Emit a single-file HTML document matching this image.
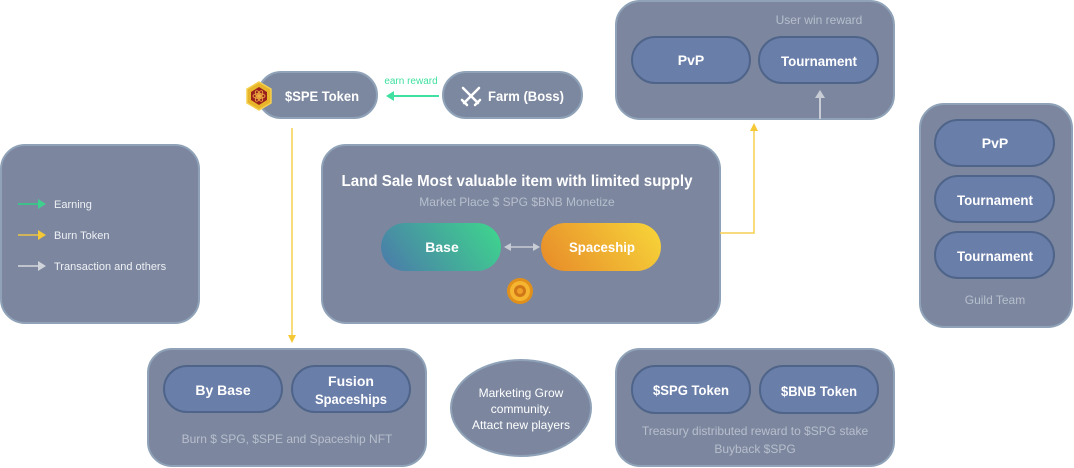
<!DOCTYPE html>
<html><head><meta charset="utf-8"><style>
html,body{margin:0;padding:0;background:#fff;}
svg{display:block;font-family:"Liberation Sans",Roboto,sans-serif;}
.pn{fill:#7c879f;stroke:#8fa2b8;stroke-width:2}
.pl{fill:#6a7eaa;stroke:#4f6489;stroke-width:2}
.bt{fill:#fff;font-weight:bold;font-size:14px;text-anchor:middle}
.st{fill:#b7bfcd;font-size:12px;text-anchor:middle}
.lg{fill:#eef0f4;font-size:11px}
</style></head><body>
<svg width="1074" height="468" viewBox="0 0 1074 468" xmlns="http://www.w3.org/2000/svg">
<defs>
<linearGradient id="gb" x1="0" y1="0.65" x2="1" y2="0.35"><stop offset="0" stop-color="#4a80a8"/><stop offset="1" stop-color="#3fd08f"/></linearGradient>
<linearGradient id="gs" x1="0" y1="0.65" x2="1" y2="0.35"><stop offset="0" stop-color="#e8902a"/><stop offset="1" stop-color="#f6d038"/></linearGradient>
</defs>
<rect class="pn" x="616" y="1" width="278" height="118" rx="24"/>
<text class="st" x="819" y="24">User win reward</text>
<rect class="pl" x="632" y="37" width="118" height="46" rx="23"/>
<text class="bt" x="691" y="65">PvP</text>
<rect class="pl" x="759" y="37" width="119" height="46" rx="23"/>
<text class="bt" x="819" y="66" textLength="76" lengthAdjust="spacingAndGlyphs">Tournament</text>
<line x1="820" y1="119" x2="820" y2="97" stroke="#c8ccd4" stroke-width="2"/>
<polygon points="815,98 825,98 820,90" fill="#c8ccd4"/>
<rect class="pn" x="920" y="104" width="152" height="223" rx="24"/>
<rect class="pl" x="935" y="120" width="119" height="46" rx="23"/><text class="bt" x="995" y="148">PvP</text>
<rect class="pl" x="935" y="176" width="119" height="46" rx="23"/><text class="bt" x="995" y="205" textLength="76" lengthAdjust="spacingAndGlyphs">Tournament</text>
<rect class="pl" x="935" y="232" width="119" height="46" rx="23"/><text class="bt" x="995" y="261" textLength="76" lengthAdjust="spacingAndGlyphs">Tournament</text>
<text class="st" x="995" y="304">Guild Team</text>
<rect class="pn" x="1" y="145" width="198" height="178" rx="24"/>
<line x1="18" y1="204" x2="38" y2="204" stroke="#3fbf8c" stroke-width="2"/><polygon points="38,199 46,204 38,209" fill="#3fd08f"/>
<text class="lg" x="54" y="208">Earning</text>
<line x1="18" y1="235" x2="38" y2="235" stroke="#d0b55a" stroke-width="2"/><polygon points="38,230 46,235 38,240" fill="#f5c836"/>
<text class="lg" x="54" y="239">Burn Token</text>
<line x1="18" y1="266" x2="38" y2="266" stroke="#c0c4cc" stroke-width="2"/><polygon points="38,261 46,266 38,271" fill="#d0d4da"/>
<text class="lg" x="54" y="270">Transaction and others</text>
<rect class="pl" x="258" y="72" width="119" height="46" rx="23" style="fill:#7c889f;stroke:#8fa2b8"/>
<text class="bt" x="322" y="101" textLength="74" lengthAdjust="spacingAndGlyphs">$SPE Token</text>
<polygon points="259,82 271,89 271,103 259,110 247,103 247,89" fill="#e8b52a" stroke="#f5d050" stroke-width="1.5"/>
<polygon points="259,87 267,92 267,100 259,105 251,100 251,92" fill="#9a1f1f"/>
<circle cx="259" cy="96" r="2" fill="#f0b040"/>
<ellipse cx="259" cy="96" rx="6" ry="2.5" fill="none" stroke="#f0b040" stroke-width="0.8"/>
<ellipse cx="259" cy="96" rx="6" ry="2.5" fill="none" stroke="#f0b040" stroke-width="0.8" transform="rotate(60 259 96)"/>
<ellipse cx="259" cy="96" rx="6" ry="2.5" fill="none" stroke="#f0b040" stroke-width="0.8" transform="rotate(-60 259 96)"/>
<rect class="pl" x="443" y="72" width="139" height="46" rx="23" style="fill:#7c889f;stroke:#8fa2b8"/>
<g stroke="#fff" stroke-width="2.5" stroke-linecap="round">
<line x1="463" y1="88" x2="478" y2="103"/><line x1="479" y1="88" x2="464" y2="103"/>
<line x1="462" y1="100" x2="467" y2="105"/><line x1="480" y1="100" x2="475" y2="105"/>
</g>
<text class="bt" x="526" y="101" textLength="76" lengthAdjust="spacingAndGlyphs">Farm (Boss)</text>
<line x1="439" y1="96" x2="393" y2="96" stroke="#3fe0a0" stroke-width="2"/>
<polygon points="394,91 386,96 394,101" fill="#3fe0a0"/>
<text x="411" y="84" fill="#3fe0a0" font-size="10" text-anchor="middle">earn reward</text>
<line x1="292" y1="128" x2="292" y2="336" stroke="#f5cf50" stroke-width="1.5"/>
<polygon points="288,335 296,335 292,343" fill="#f5c836"/>
<rect class="pn" x="322" y="145" width="398" height="178" rx="24"/>
<text x="517" y="186" fill="#fff" font-weight="bold" font-size="16" text-anchor="middle" textLength="351" lengthAdjust="spacingAndGlyphs">Land Sale Most valuable item with limited supply</text>
<text class="st" x="517" y="206">Market Place $ SPG $BNB Monetize</text>
<rect x="381" y="223" width="120" height="48" rx="24" fill="url(#gb)"/>
<text class="bt" x="442" y="252">Base</text>
<rect x="541" y="223" width="120" height="48" rx="24" fill="url(#gs)"/>
<text class="bt" x="602" y="252" textLength="66" lengthAdjust="spacingAndGlyphs">Spaceship</text>
<line x1="510" y1="247" x2="534" y2="247" stroke="#c8ccd4" stroke-width="1.5"/>
<polygon points="511,243 504,247 511,251" fill="#c8ccd4"/><polygon points="533,243 540,247 533,251" fill="#c8ccd4"/>
<circle cx="520" cy="291" r="13" fill="#e0901a"/><circle cx="520" cy="291" r="10" fill="#f5b530"/><circle cx="520" cy="291" r="6" fill="#d07818"/><circle cx="520" cy="291" r="3" fill="#f0a028"/>
<polyline points="720,233 754,233 754,130" fill="none" stroke="#f5cf50" stroke-width="1.5"/>
<polygon points="750,131 758,131 754,123" fill="#f5c836"/>
<rect class="pn" x="148" y="349" width="278" height="117" rx="24"/>
<rect class="pl" x="164" y="366" width="118" height="46" rx="23"/><text class="bt" x="223" y="395">By Base</text>
<rect class="pl" x="292" y="366" width="118" height="46" rx="23"/>
<text class="bt" x="351" y="386">Fusion</text><text class="bt" x="351" y="404" textLength="72" lengthAdjust="spacingAndGlyphs">Spaceships</text>
<text class="st" x="287" y="443">Burn $ SPG, $SPE and Spaceship NFT</text>
<ellipse cx="521" cy="408" rx="70" ry="48" class="pn"/>
<text fill="#fff" font-size="12" text-anchor="middle"><tspan x="521" y="397">Marketing Grow</tspan><tspan x="521" y="413">community.</tspan><tspan x="521" y="429">Attact new players</tspan></text>
<rect class="pn" x="616" y="349" width="278" height="117" rx="24"/>
<rect class="pl" x="632" y="366" width="118" height="47" rx="23"/><text class="bt" x="691" y="395" textLength="76" lengthAdjust="spacingAndGlyphs">$SPG Token</text>
<rect class="pl" x="760" y="366" width="118" height="47" rx="23"/><text class="bt" x="819" y="396" textLength="76" lengthAdjust="spacingAndGlyphs">$BNB Token</text>
<text class="st" x="755" y="435">Treasury distributed reward to $SPG stake</text>
<text class="st" x="755" y="453">Buyback $SPG</text>
</svg>
</body></html>
